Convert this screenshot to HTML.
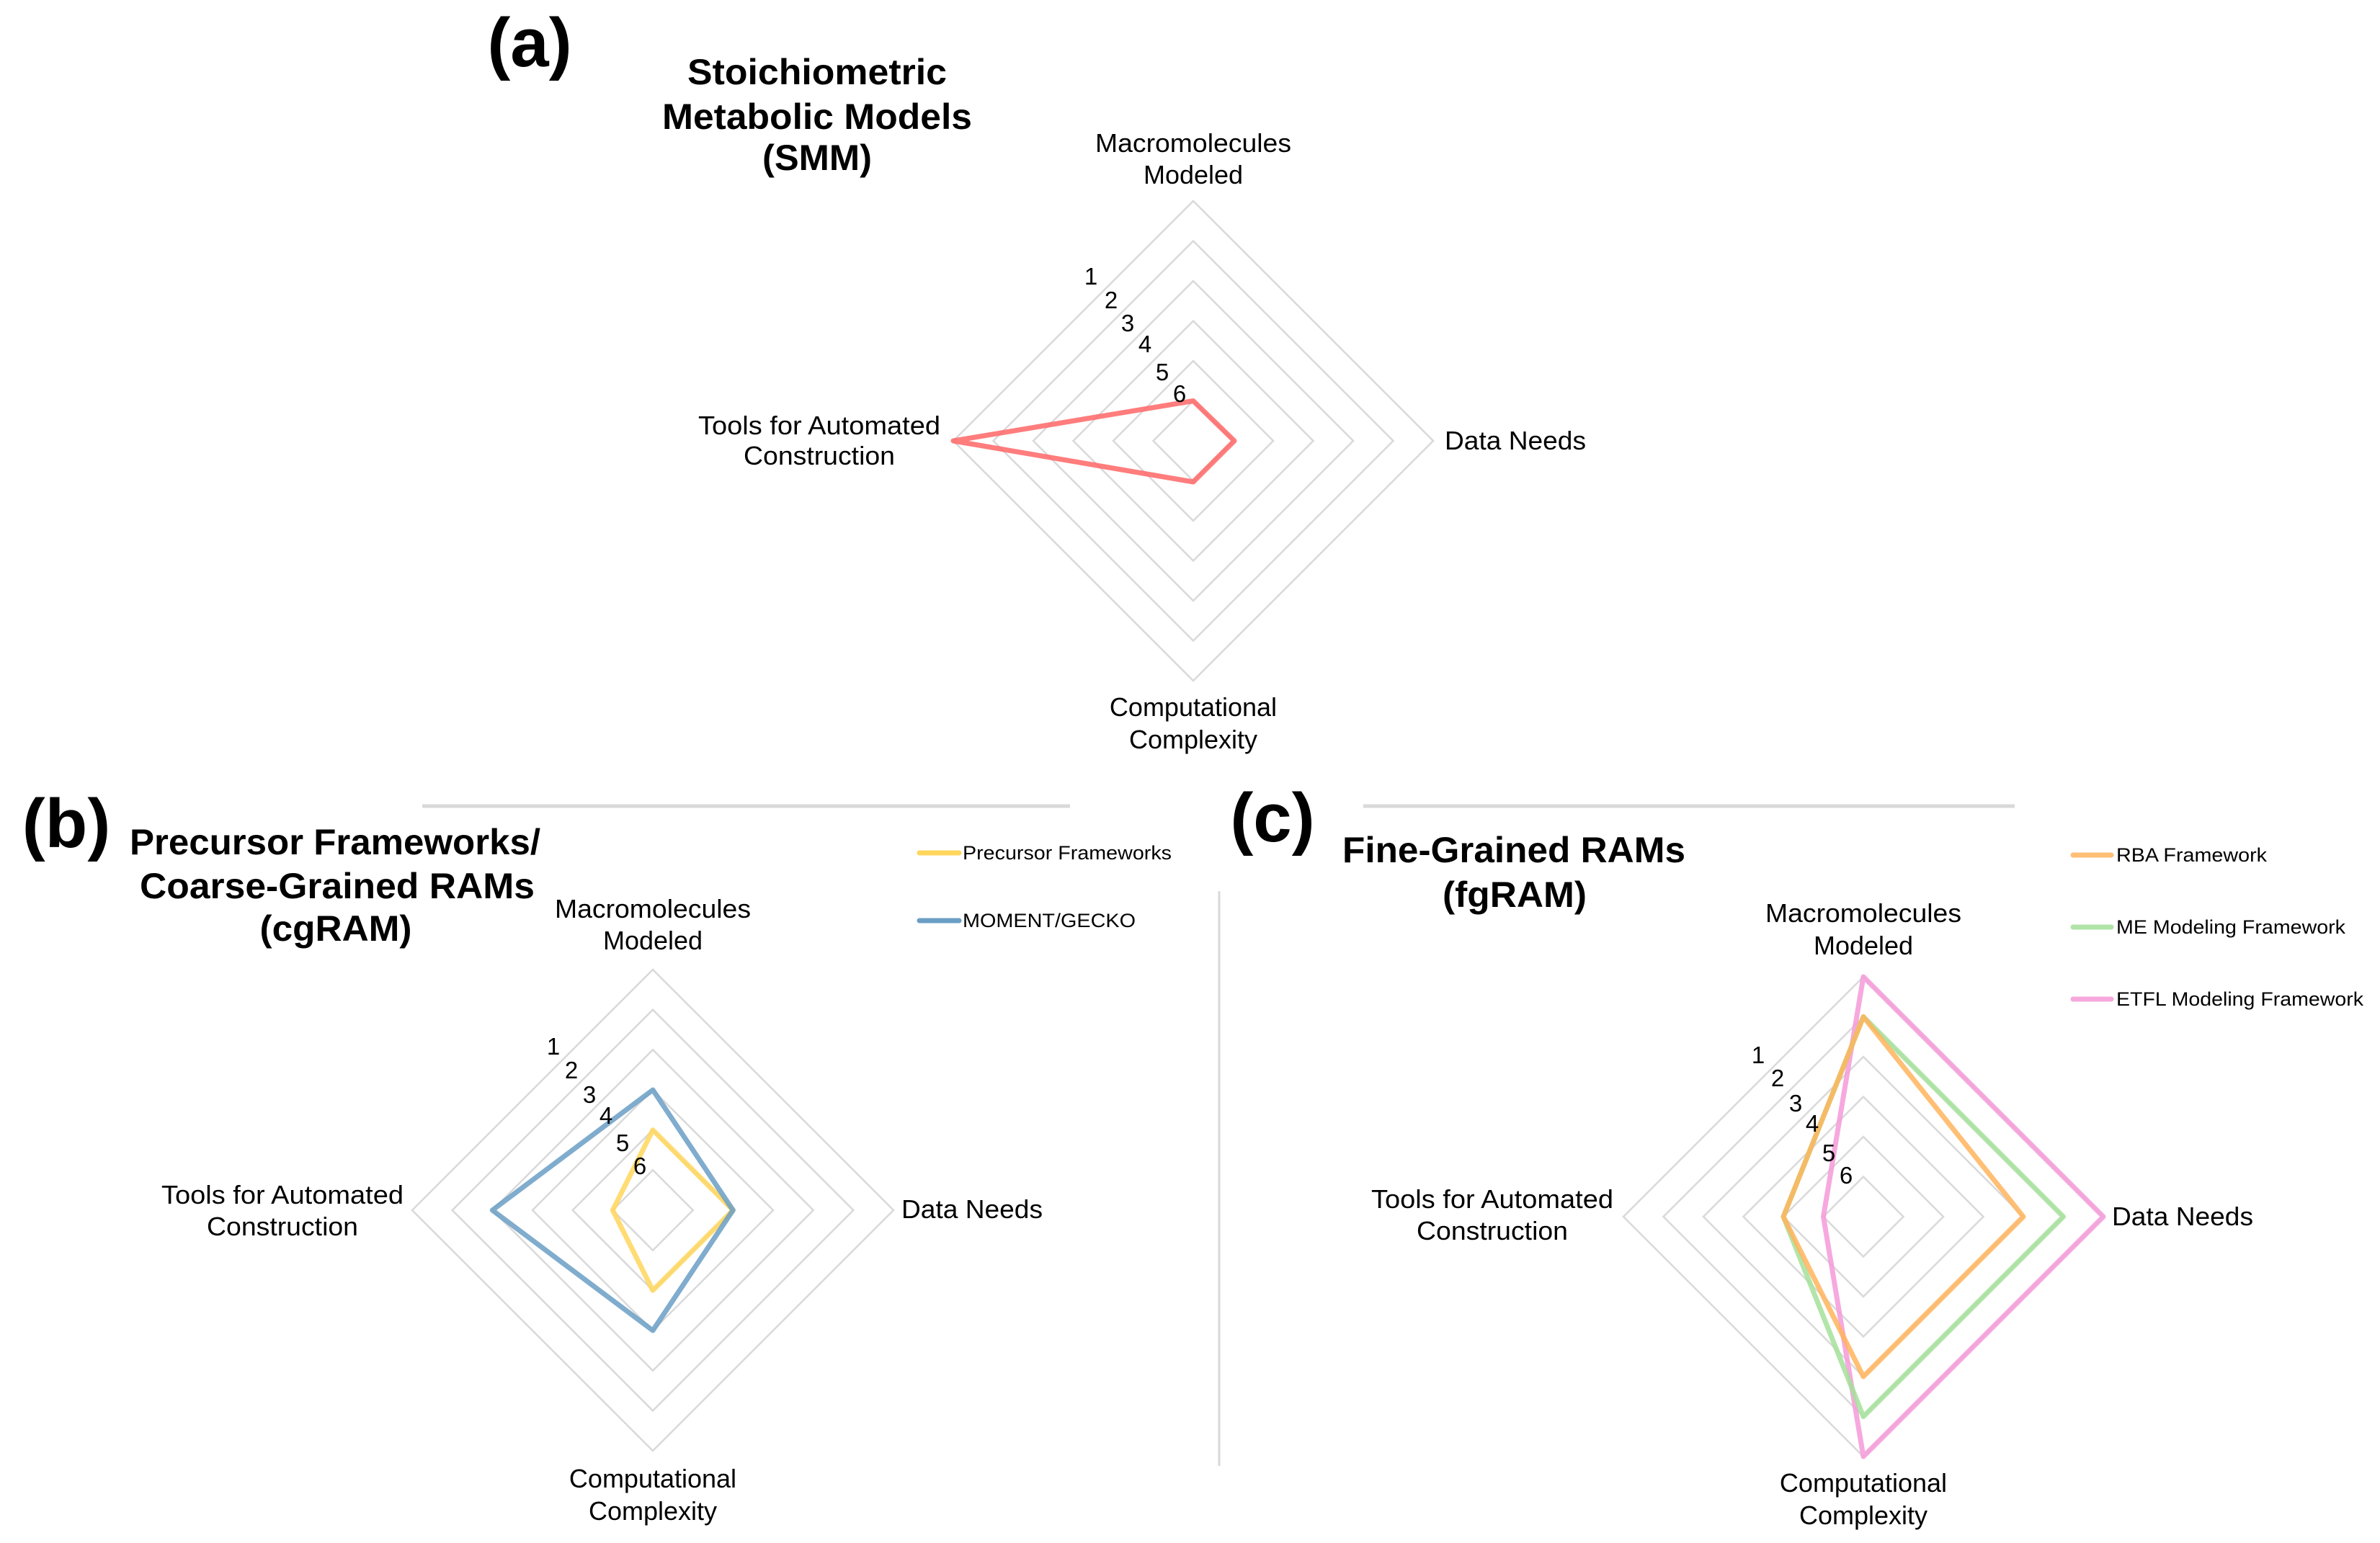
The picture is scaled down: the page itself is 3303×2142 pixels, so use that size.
<!DOCTYPE html>
<html><head><meta charset="utf-8"><style>
html,body{margin:0;padding:0;background:#fff;}
svg{display:block;}
text{font-family:"Liberation Sans",Arial,sans-serif;fill:#000;}
.ax{font-size:36px;}
.tk{font-size:33px;}
.tt{font-size:50px;font-weight:bold;}
.pl{font-size:96px;font-weight:bold;}
.lg{font-size:27px;}
.grid{fill:none;stroke:#d9d9d9;stroke-width:2.5;}
.s{fill:none;stroke-width:7;stroke-linejoin:round;opacity:0.85;}
</style></head><body>
<svg width="3303" height="2142" viewBox="0 0 3303 2142" xmlns="http://www.w3.org/2000/svg">
<line x1="586" y1="1119" x2="1485" y2="1119" stroke="#d9d9d9" stroke-width="5"/>
<line x1="1892" y1="1119" x2="2796" y2="1119" stroke="#d9d9d9" stroke-width="5"/>
<line x1="1692" y1="1237" x2="1692" y2="2035" stroke="#d9d9d9" stroke-width="3"/>

<g class="grid">
<path d="M1656 279 L1989 612 L1656 945 L1323 612 Z"/>
<path d="M1656 334.5 L1933.5 612 L1656 889.5 L1378.5 612 Z"/>
<path d="M1656 390 L1878 612 L1656 834 L1434 612 Z"/>
<path d="M1656 445.5 L1822.5 612 L1656 778.5 L1489.5 612 Z"/>
<path d="M1656 501 L1767 612 L1656 723 L1545 612 Z"/>
<path d="M1656 556.5 L1711.5 612 L1656 667.5 L1600.5 612 Z"/>
</g>
<path class="s" stroke="#ff6666" d="M1656 556.5 L1713 612 L1656 669 L1323 612 Z"/>
<text class="pl" x="735" y="92" text-anchor="middle">(a)</text>
<text class="tt" x="1134" y="117" text-anchor="middle" textLength="360" lengthAdjust="spacingAndGlyphs">Stoichiometric</text>
<text class="tt" x="1134" y="179" text-anchor="middle" textLength="430" lengthAdjust="spacingAndGlyphs">Metabolic Models</text>
<text class="tt" x="1134" y="236" text-anchor="middle" textLength="152" lengthAdjust="spacingAndGlyphs">(SMM)</text>
<text class="ax" x="1656" y="211" text-anchor="middle" textLength="272" lengthAdjust="spacingAndGlyphs">Macromolecules</text>
<text class="ax" x="1656" y="255" text-anchor="middle">Modeled</text>
<text class="ax" x="2005" y="624" textLength="196" lengthAdjust="spacingAndGlyphs">Data Needs</text>
<text class="ax" x="1137" y="603" text-anchor="middle" textLength="336" lengthAdjust="spacingAndGlyphs">Tools for Automated</text>
<text class="ax" x="1137" y="645" text-anchor="middle" textLength="210" lengthAdjust="spacingAndGlyphs">Construction</text>
<text class="ax" x="1656" y="994" text-anchor="middle">Computational</text>
<text class="ax" x="1656" y="1039" text-anchor="middle">Complexity</text>
<g class="tk" text-anchor="middle">
<text x="1514" y="395">1</text><text x="1542" y="428">2</text><text x="1565" y="460">3</text>
<text x="1589" y="489">4</text><text x="1613" y="528">5</text><text x="1637" y="558">6</text>
</g>

<g class="grid">
<path d="M906 1346 L1240 1680 L906 2014 L572 1680 Z"/>
<path d="M906 1401.7 L1184.3 1680 L906 1958.3 L627.7 1680 Z"/>
<path d="M906 1457.3 L1128.7 1680 L906 1902.7 L683.3 1680 Z"/>
<path d="M906 1513 L1073 1680 L906 1847 L739 1680 Z"/>
<path d="M906 1568.7 L1017.3 1680 L906 1791.3 L794.7 1680 Z"/>
<path d="M906 1624.3 L961.7 1680 L906 1735.7 L850.3 1680 Z"/>
</g>
<path class="s" stroke="#ffd65c" d="M906 1568.7 L1017.3 1680 L906 1791.3 L850.3 1680 Z"/>
<path class="s" stroke="#6a9ec4" d="M906 1513 L1017.3 1680 L906 1847 L683.3 1680 Z"/>
<text class="pl" x="92" y="1176" text-anchor="middle">(b)</text>
<text class="tt" x="465" y="1186" text-anchor="middle" textLength="570" lengthAdjust="spacingAndGlyphs">Precursor Frameworks/</text>
<text class="tt" x="468" y="1247" text-anchor="middle" textLength="548" lengthAdjust="spacingAndGlyphs">Coarse-Grained RAMs</text>
<text class="tt" x="466" y="1306" text-anchor="middle" textLength="211" lengthAdjust="spacingAndGlyphs">(cgRAM)</text>
<text class="ax" x="906" y="1274" text-anchor="middle" textLength="272" lengthAdjust="spacingAndGlyphs">Macromolecules</text>
<text class="ax" x="906" y="1318" text-anchor="middle">Modeled</text>
<text class="ax" x="1251" y="1691" textLength="196" lengthAdjust="spacingAndGlyphs">Data Needs</text>
<text class="ax" x="392" y="1671" text-anchor="middle" textLength="336" lengthAdjust="spacingAndGlyphs">Tools for Automated</text>
<text class="ax" x="392" y="1715" text-anchor="middle" textLength="210" lengthAdjust="spacingAndGlyphs">Construction</text>
<text class="ax" x="906" y="2065" text-anchor="middle">Computational</text>
<text class="ax" x="906" y="2110" text-anchor="middle">Complexity</text>
<g class="tk" text-anchor="middle">
<text x="768" y="1464">1</text><text x="793" y="1497">2</text><text x="818" y="1531">3</text>
<text x="841" y="1560">4</text><text x="864" y="1598">5</text><text x="888" y="1630">6</text>
</g>
<line x1="1276" y1="1184" x2="1331" y2="1184" stroke="#ffd65c" stroke-width="7" stroke-linecap="round"/>
<text class="lg" x="1336" y="1193" textLength="290" lengthAdjust="spacingAndGlyphs">Precursor Frameworks</text>
<line x1="1276" y1="1278" x2="1331" y2="1278" stroke="#6a9ec4" stroke-width="7" stroke-linecap="round"/>
<text class="lg" x="1336" y="1287" textLength="240" lengthAdjust="spacingAndGlyphs">MOMENT/GECKO</text>

<g class="grid">
<path d="M2586 1356 L2919 1689 L2586 2022 L2253 1689 Z"/>
<path d="M2586 1411.5 L2863.5 1689 L2586 1966.5 L2308.5 1689 Z"/>
<path d="M2586 1467 L2808 1689 L2586 1911 L2364 1689 Z"/>
<path d="M2586 1522.5 L2752.5 1689 L2586 1855.5 L2419.5 1689 Z"/>
<path d="M2586 1578 L2697 1689 L2586 1800 L2475 1689 Z"/>
<path d="M2586 1633.5 L2641.5 1689 L2586 1744.5 L2530.5 1689 Z"/>
</g>
<path class="s" stroke="#f59ad8" d="M2586 1356 L2919 1689 L2586 2022 L2530.5 1689 Z"/>
<path class="s" stroke="#a4e09a" d="M2586 1411.5 L2863.5 1689 L2586 1966.5 L2475 1689 Z"/>
<path class="s" stroke="#ffb45c" d="M2586 1411.5 L2808 1689 L2586 1911 L2475 1689 Z"/>
<text class="pl" x="1766" y="1168" text-anchor="middle">(c)</text>
<text class="tt" x="2101" y="1197" text-anchor="middle" textLength="476" lengthAdjust="spacingAndGlyphs">Fine-Grained RAMs</text>
<text class="tt" x="2102" y="1259" text-anchor="middle" textLength="200" lengthAdjust="spacingAndGlyphs">(fgRAM)</text>
<text class="ax" x="2586" y="1280" text-anchor="middle" textLength="272" lengthAdjust="spacingAndGlyphs">Macromolecules</text>
<text class="ax" x="2586" y="1325" text-anchor="middle">Modeled</text>
<text class="ax" x="2931" y="1701" textLength="196" lengthAdjust="spacingAndGlyphs">Data Needs</text>
<text class="ax" x="2071" y="1677" text-anchor="middle" textLength="336" lengthAdjust="spacingAndGlyphs">Tools for Automated</text>
<text class="ax" x="2071" y="1721" text-anchor="middle" textLength="210" lengthAdjust="spacingAndGlyphs">Construction</text>
<text class="ax" x="2586" y="2071" text-anchor="middle">Computational</text>
<text class="ax" x="2586" y="2116" text-anchor="middle">Complexity</text>
<g class="tk" text-anchor="middle">
<text x="2440" y="1476">1</text><text x="2467" y="1508">2</text><text x="2492" y="1543">3</text>
<text x="2515" y="1571">4</text><text x="2538" y="1612">5</text><text x="2562" y="1643">6</text>
</g>
<line x1="2877" y1="1187" x2="2930" y2="1187" stroke="#ffb45c" stroke-width="7" stroke-linecap="round" opacity="0.85"/>
<text class="lg" x="2937" y="1196" textLength="209" lengthAdjust="spacingAndGlyphs">RBA Framework</text>
<line x1="2877" y1="1287" x2="2930" y2="1287" stroke="#a4e09a" stroke-width="7" stroke-linecap="round" opacity="0.85"/>
<text class="lg" x="2937" y="1296" textLength="318" lengthAdjust="spacingAndGlyphs">ME Modeling Framework</text>
<line x1="2877" y1="1387" x2="2930" y2="1387" stroke="#f59ad8" stroke-width="7" stroke-linecap="round" opacity="0.85"/>
<text class="lg" x="2937" y="1396" textLength="343" lengthAdjust="spacingAndGlyphs">ETFL Modeling Framework</text>
</svg>
</body></html>
